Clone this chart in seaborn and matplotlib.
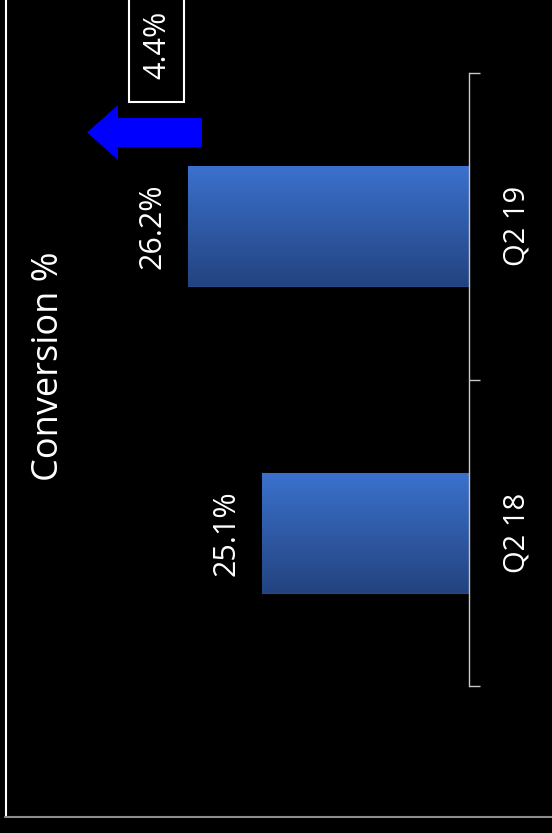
import matplotlib
matplotlib.use('Agg')
import matplotlib.pyplot as plt
import matplotlib.patches as patches
from matplotlib.colors import LinearSegmentedColormap
import seaborn as sns
import numpy as np
import pandas as pd

# data
categories = ['Q2 18', 'Q2 19']
conversion = [25.1, 26.2]
value_labels = ['25.1%', '26.2%']
title = 'Conversion %'
change_label = '4.4%'

sns.set_style('dark')
plt.rcParams['font.family'] = ['Open Sans', 'DejaVu Sans']

W, H = 552, 833
fig = plt.figure(figsize=(W / 100, H / 100), dpi=100, facecolor='black')

# chart axes (the whole chart is turned a quarter left)
ax = fig.add_axes([65 / W, 1 - 686 / H, (469 - 65) / W, (686 - 73) / H])
df = pd.DataFrame({'quarter': categories, 'conv': conversion})
sns.barplot(data=df, y='quarter', x='conv', orient='h', width=0.39,
            color='#3465bb', edgecolor='#27488a', linewidth=0.8, ax=ax)
ax.set_facecolor('black')
ax.set_xlim(28.03, 22.02)
ax.set_ylim(-0.5, 1.5)

# gradient fill clipped to each bar
cmap = LinearSegmentedColormap.from_list('barfill', ['#23437f', '#3b71cd'])
grad = np.linspace(0, 1, 256).reshape(-1, 1)
for bar in ax.patches:
    x0, y0 = bar.get_x(), bar.get_y()
    w, h = bar.get_width(), bar.get_height()
    im = ax.imshow(grad, cmap=cmap, origin='lower', aspect='auto',
                   extent=[22.02, x0 + w, y0, y0 + h], zorder=bar.get_zorder() + 0.1)
    im.set_clip_path(bar)
ax.set_xlim(28.03, 22.02)
ax.set_ylim(-0.5, 1.5)

ax.bar_label(ax.containers[0], labels=value_labels, padding=15, rotation=90,
             color='white', fontsize=22)

for s in ['top', 'bottom', 'left']:
    ax.spines[s].set_visible(False)
ax.spines['right'].set_visible(True)
ax.spines['right'].set_color('#c8c8c8')
ax.spines['right'].set_linewidth(1.0)
ax.set_xticks([])
ax.yaxis.tick_right()
ax.set_yticks([0, 1])
ax.set_yticklabels(categories, rotation=90, va='center')
ax.set_yticks([-0.5, 0.5, 1.5], minor=True)
ax.tick_params(axis='y', which='major', length=0, pad=24, labelsize=21,
               labelcolor='white')
ax.tick_params(axis='y', which='minor', length=8, width=1.0, color='#c8c8c8',
               direction='out', right=True, left=False)
ax.set_xlabel('')
ax.set_ylabel('')
ax.grid(False)

# overlay in pixel units for frame, title, arrow and change box
ov = fig.add_axes([0, 0, 1, 1], facecolor='none')
ov.set_xlim(0, W)
ov.set_ylim(H, 0)
ov.axis('off')
ov.plot([5.5, 5.5], [0, 816.5], color='white', lw=1.5)
ov.plot([5, W], [816.5, 816.5], color='#8c8c8c', lw=1.5)
ov.text(49, 366, title, rotation=90, ha='center', va='center',
        color='white', fontsize=26)
ov.add_patch(patches.FancyArrow(202, 132.5, -115, 0, width=29, head_width=55,
                                head_length=31, length_includes_head=True,
                                color='#0000ff', lw=0))
ov.add_patch(patches.Rectangle((129, -5), 55, 107, fill=False,
                               edgecolor='white', lw=1.5))
ov.text(157, 45, change_label, rotation=90, ha='center', va='center',
        color='white', fontsize=22)

fig.savefig('out.png', dpi=100, facecolor='black')
